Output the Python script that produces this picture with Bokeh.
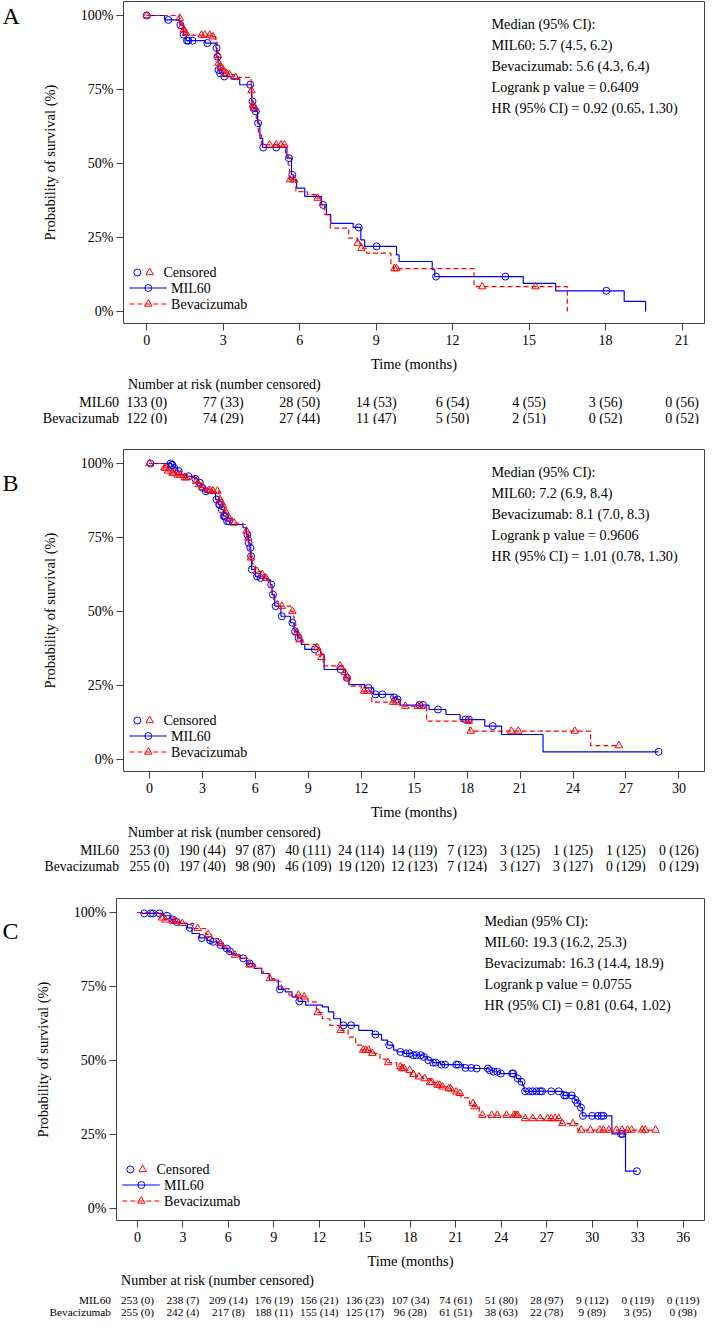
import bisect
from bokeh.plotting import figure
from bokeh.models import Range1d, FixedTicker, PrintfTickFormatter
from bokeh.layouts import column, row
from bokeh.embed import file_html
from bokeh.resources import INLINE
from bokeh.core.properties import value

FONT = "Liberation Serif"
BLUE = "#0000ff"
RED = "#ff0000"
FRAME = "#404040"

# ---------------- Panel A data ----------------
A_mil_t = [0, 0.7, 1.3, 1.43, 1.55, 2.3, 2.72, 2.75, 2.8, 2.85, 3.0, 3.3, 3.65, 4.12, 4.17, 4.25, 4.35, 4.44, 4.55, 5.5,
           5.68, 5.75, 5.88, 6.2, 6.85, 7.05, 7.22, 8.1, 8.4, 8.55, 9.8, 9.9, 11.2, 11.3, 14.77, 16.04, 18.73, 19.57]
A_mil_s = [100, 98.5, 96.8, 93.5, 91.5, 90.7, 89.0, 86.1, 81.6, 80.5, 79.4, 78.6, 76.6, 71.0, 68.7, 67.6, 63.6, 58.5, 55.4, 51.8,
           46.2, 44.5, 41.7, 38.9, 36.0, 32.7, 29.8, 28.4, 24.2, 22.0, 19.1, 16.9, 14.1, 11.8, 9.5, 7.0, 3.4, 0]
A_mil_cens = [0, 0.85, 1.32, 1.45, 1.58, 1.63, 1.8, 2.38, 2.74, 2.78, 2.82, 2.88, 3.04, 4.06, 4.15, 4.2, 4.28, 4.37, 4.57,
              5.08, 5.58, 5.71, 6.92, 8.32, 9.02, 11.35, 14.07, 18.03]
A_bev_t = [0, 1.28, 1.35, 1.42, 1.5, 1.62, 2.55, 2.7, 2.75, 2.78, 2.8, 2.88, 2.98, 3.1, 3.22, 3.45, 4.1, 4.13, 4.2, 4.3,
           4.38, 4.5, 5.45, 5.55, 5.6, 5.85, 6.3, 6.65, 6.82, 6.98, 7.2, 7.92, 8.26, 8.4, 8.62, 9.58, 9.68, 12.84, 16.5]
A_bev_s = [100, 99.1, 96.3, 95.1, 94.0, 93.4, 92.8, 91.8, 90.7, 86.5, 83.9, 82.8, 81.6, 80.5, 80.0, 79.1, 74.6, 69.8, 68.7, 64.5,
           59.7, 56.3, 52.9, 49.5, 44.5, 40.5, 39.5, 38.3, 36.0, 32.7, 28.2, 24.8, 23.1, 21.4, 19.7, 15.8, 14.5, 8.4, 0]
A_bev_cens = [0, 1.3, 1.38, 1.45, 1.55, 2.15, 2.28, 2.47, 2.6, 2.79, 2.82, 2.9, 3.0, 3.12, 3.25, 3.49, 4.11, 4.16, 4.22,
              4.82, 5.08, 5.27, 5.4, 5.62, 5.78, 6.7, 8.28, 8.42, 9.72, 9.8, 13.16, 15.25]
A_ticks = [0, 3, 6, 9, 12, 15, 18, 21]
A_mil_risk = [133, 77, 28, 14, 6, 4, 3, 0]
A_mil_cc = [0, 33, 50, 53, 54, 55, 56, 56]
A_bev_risk = [122, 74, 27, 11, 5, 2, 0, 0]
A_bev_cc = [0, 29, 44, 47, 50, 51, 52, 52]
A_stats = ["Median (95% CI):", "MIL60: 5.7 (4.5, 6.2)", "Bevacizumab: 5.6 (4.3, 6.4)",
           "Logrank p value = 0.6409", "HR (95% CI) = 0.92 (0.65, 1.30)"]

# ---------------- Panel B data ----------------
B_mil_t = [0, 1.25, 1.35, 1.6, 1.8, 2.1, 2.55, 2.75, 2.92, 3.1, 3.3, 3.75, 3.92, 4.05, 4.2, 4.35, 4.55, 5.3, 5.5, 5.6,
           5.7, 5.74, 5.78, 6.0, 6.2, 6.65, 6.85, 6.95, 7.1, 7.45, 8.0, 8.2, 8.4, 8.6, 8.8, 9.7, 9.9, 11.1, 11.3, 12.2,
           12.7, 13.8, 14.0, 14.2, 15.84, 16.8, 17.6, 19.0, 19.95, 22.3]
B_mil_s = [100, 99.5, 98.5, 97.4, 96.3, 95.7, 94.8, 93.5, 91.8, 90.6, 90.1, 87.8, 86.1, 84.4, 82.2, 80.5, 79.4, 78.3, 75.9, 73.2,
           71.5, 68.7, 64.2, 61.9, 61.3, 60.8, 59.1, 55.7, 51.8, 48.4, 46.2, 43.3, 41.1, 38.9, 37.2, 35.5, 30.4, 27.6, 25.3, 24.2,
           22.0, 21.0, 20.3, 18.4, 16.9, 15.2, 13.5, 11.3, 8.45, 2.6]
B_mil_cens = [0.06, 1.2, 1.27, 1.3, 1.4, 1.66, 2.2, 2.6, 2.85, 3.0, 3.2, 3.8, 3.95, 4.0, 4.1, 4.22, 4.25, 4.3, 4.4, 4.5,
              5.55, 5.62, 5.72, 5.76, 5.8, 6.1, 6.3, 6.9, 7.0, 7.15, 7.5, 8.1, 8.25, 8.45, 9.37, 10.84, 11.2, 12.41, 12.8,
              13.2, 13.86, 14.06, 15.3, 15.5, 16.35, 17.9, 18.1, 19.45, 28.85]
B_bev_t = [0, 0.8, 1.0, 1.25, 1.55, 1.95, 2.6, 2.7, 2.9, 3.1, 3.3, 3.5, 3.95, 4.1, 4.25, 4.45, 4.7, 5.3, 5.45, 5.55,
           5.65, 5.72, 5.85, 6.0, 6.3, 6.55, 6.7, 6.85, 6.95, 7.05, 7.3, 8.0, 8.15, 8.2, 8.3, 8.45, 8.7, 9.45, 9.6, 9.7,
           9.85, 11.0, 11.15, 11.3, 12.0, 12.6, 14.2, 15.7, 18.15, 25.0]
B_bev_s = [100, 98.5, 97.5, 96.8, 96.1, 95.2, 94.0, 92.9, 92.0, 91.2, 90.9, 90.7, 87.8, 86.1, 83.9, 81.6, 79.9, 79.4, 77.2, 74.9,
           70.9, 68.1, 65.9, 63.6, 62.5, 61.3, 60.2, 58.0, 55.7, 53.5, 51.8, 50.1, 48.4, 45.6, 42.8, 40.5, 38.9, 37.8, 36.1, 34.5,
           31.6, 29.4, 27.6, 24.8, 23.1, 19.4, 18.0, 12.95, 9.6, 4.7]
B_bev_cens = [0, 0.85, 0.92, 1.05, 1.3, 1.38, 1.6, 1.75, 2.0, 2.1, 2.65, 2.8, 3.0, 3.35, 3.45, 3.6, 3.85, 4.0, 4.15, 4.3,
              4.5, 4.8, 5.5, 5.6, 5.75, 6.1, 6.4, 6.6, 7.5, 8.1, 8.35, 8.5, 9.5, 9.62, 9.75, 10.8, 11.07, 11.2, 12.16,
              12.35, 13.8, 14.0, 14.5, 15.2, 15.4, 18.1, 18.2, 20.5, 20.9, 24.1, 26.6]
B_ticks = [0, 3, 6, 9, 12, 15, 18, 21, 24, 27, 30]
B_mil_risk = [253, 190, 97, 40, 24, 14, 7, 3, 1, 1, 0]
B_mil_cc = [0, 44, 87, 111, 114, 119, 123, 125, 125, 125, 126]
B_bev_risk = [255, 197, 98, 46, 19, 12, 7, 3, 3, 0, 0]
B_bev_cc = [0, 40, 90, 109, 120, 123, 124, 127, 127, 129, 129]
B_stats = ["Median (95% CI):", "MIL60: 7.2 (6.9, 8.4)", "Bevacizumab: 8.1 (7.0, 8.3)",
           "Logrank p value = 0.9606", "HR (95% CI) = 1.01 (0.78, 1.30)"]

# ---------------- Panel C data ----------------
C_mil_t = [0, 0.3, 1.7, 2.2, 2.5, 2.85, 3.3, 3.6, 4.1, 4.6, 4.85, 5.3, 5.6, 5.95, 6.2, 6.45, 6.8, 7.2, 7.7, 8.2,
           8.7, 9.3, 9.75, 10.2, 10.6, 11.1, 12.2, 12.6, 12.95, 13.4, 14.6, 15.5, 16.1, 16.5, 16.9, 17.15, 17.6, 18.2, 18.9, 19.15,
           19.5, 20.0, 21.5, 22.2, 23.2, 23.45, 23.9, 25.0, 25.25, 25.4, 25.5, 28.1, 28.85, 29.0, 29.2, 29.35, 31.3, 32.2]
C_mil_s = [100, 99.7, 98.9, 97.7, 96.8, 96.3, 94.8, 92.9, 91.4, 90.6, 90.1, 89.0, 87.8, 86.9, 86.1, 85.6, 84.5, 82.8, 81.1, 79.4,
           77.2, 74.0, 73.2, 71.5, 70.0, 68.7, 68.1, 66.4, 64.1, 61.9, 60.2, 58.8, 56.9, 55.2, 53.5, 52.9, 52.4, 51.8, 51.2, 50.1,
           49.3, 48.6, 47.5, 47.3, 46.7, 46.2, 45.6, 43.9, 42.8, 41.6, 39.6, 38.2, 36.7, 35.6, 34.1, 31.3, 25.2, 12.6]
C_mil_cens = [0.45, 0.88, 1.03, 1.46, 1.95, 2.31, 2.59, 3.45, 4.24, 4.8, 5.0, 5.48, 5.9, 6.1, 6.98, 7.4, 9.4, 10.68, 13.6,
              14.1, 15.7, 16.61, 17.35, 17.71, 17.96, 18.2, 18.4, 18.7, 18.9, 19.19, 19.51, 19.68, 20.05, 20.3, 21.03, 21.16,
              21.64, 22.02, 22.38, 23.12, 23.24, 23.49, 23.74, 23.98, 24.72, 24.79, 25.09, 25.34, 25.58, 25.83, 26.07, 26.32,
              26.56, 26.69, 27.3, 27.79, 28.16, 28.28, 28.65, 28.89, 29.02, 29.26, 29.39, 30.0, 30.37, 30.61, 30.74, 31.9,
              32.0, 32.95]
C_bev_t = [0, 1.5, 1.8, 2.3, 2.55, 2.9, 3.7, 4.5, 4.9, 5.35, 5.6, 6.0, 6.35, 6.75, 7.3, 7.8, 8.3, 8.7, 9.05, 9.5,
           10.0, 10.9, 11.25, 11.8, 12.2, 12.7, 13.3, 13.9, 14.4, 14.8, 15.4, 16.0, 16.4, 17.1, 17.4, 17.65, 18.0, 18.35, 18.85,
           19.3, 19.7, 20.0, 20.4, 20.7, 21.1, 21.35, 21.9, 22.2, 22.55, 25.3, 27.9, 29.05]
C_bev_s = [100, 98.2, 97.5, 97.1, 96.8, 96.3, 94.6, 92.6, 91.2, 89.5, 88.3, 86.6, 85.6, 84.5, 82.3, 81.1, 79.4, 77.7, 76.6, 74.3,
           72.1, 71.5, 69.8, 66.2, 64.1, 61.9, 60.2, 57.9, 55.2, 53.5, 52.4, 50.5, 49.3, 47.9, 47.3, 46.7, 45.3, 44.5, 43.9,
           42.6, 41.7, 41.1, 40.5, 39.4, 38.9, 37.4, 35.5, 34.4, 31.5, 30.4, 28.7, 26.5]
C_bev_cens = [1.63, 1.84, 2.36, 2.52, 2.96, 3.98, 4.67, 5.48, 6.44, 7.4, 8.73, 10.62, 11.0, 11.89, 13.41, 14.89, 15.06,
              15.25, 15.5, 16.53, 17.35, 17.47, 17.59, 17.96, 18.21, 18.57, 18.95, 19.31, 19.43, 19.8, 19.93, 20.12, 20.54,
              20.66, 21.03, 21.28, 22.14, 22.26, 22.75, 23.37, 23.74, 24.35, 24.84, 24.97, 25.09, 25.58, 26.08, 26.57,
              27.06, 27.3, 27.55, 27.79, 28.03, 28.73, 29.27, 29.88, 30.5, 30.74, 31.1, 31.6, 31.97, 32.34, 32.6, 33.3,
              33.5, 34.18]
C_ticks = [0, 3, 6, 9, 12, 15, 18, 21, 24, 27, 30, 33, 36]
C_mil_risk = [253, 238, 209, 176, 156, 136, 107, 74, 51, 28, 9, 0, 0]
C_mil_cc = [0, 7, 14, 19, 21, 23, 34, 61, 80, 97, 112, 119, 119]
C_bev_risk = [255, 242, 217, 188, 155, 125, 96, 61, 38, 22, 9, 3, 0]
C_bev_cc = [0, 4, 8, 11, 14, 17, 28, 51, 63, 78, 89, 95, 98]
C_stats = ["Median (95% CI):", "MIL60: 19.3 (16.2, 25.3)", "Bevacizumab: 16.3 (14.4, 18.9)",
           "Logrank p value = 0.0755", "HR (95% CI) = 0.81 (0.64, 1.02)"]

GROUPS = ["MIL60", "Bevacizumab"]

# ---------------- layout ----------------
W = 706          # total width of the page content
LW = 24          # width of the strip that carries the panel letter
FRAME_H = 322
BOTTOM = 53
Y0, Y1 = -4.05, 104.73


def blank(fig):
    fig.xgrid.visible = False
    fig.ygrid.visible = False
    fig.outline_line_color = None
    return fig


def build(letter, xs, xe, ticks, left, top, letter_dy, curves, stats, risk, tab_h, hdr_dy, row_dy,
          row_font, lab_px, hdr_px):
    H = top + FRAME_H + BOTTOM
    frame_w = W - left - 2
    kx = frame_w / (xe - xs)
    ky = FRAME_H / (Y1 - Y0)

    def fx(px):
        return xs + px / kx

    def fy(py):
        return Y1 - py / ky

    # letter strip
    lf = blank(figure(width=LW, height=H, x_range=Range1d(0, LW), y_range=Range1d(0, H),
                      output_backend="svg", toolbar_location=None, x_axis_location=None, y_axis_location=None,
                      min_border_left=0, min_border_right=0, min_border_top=0, min_border_bottom=0))
    lf.text([2], [H - top - letter_dy], text=[letter], text_font=value(FONT), text_font_size="24px",
            text_align="left", text_baseline="middle", text_color="black")

    p = figure(width=W - LW, height=H, x_range=Range1d(xs, xe), y_range=Range1d(Y0, Y1),
               output_backend="svg", toolbar_location=None, min_border_left=left - LW, min_border_right=2,
               min_border_top=top, min_border_bottom=BOTTOM)
    p.xgrid.visible = False
    p.ygrid.visible = False
    p.outline_line_color = FRAME
    p.outline_line_width = 1
    for ax in (p.xaxis[0], p.yaxis[0]):
        ax.axis_line_color = None
        ax.major_tick_line_color = FRAME
        ax.major_tick_out = 7
        ax.major_tick_in = 0
        ax.minor_tick_line_color = None
        ax.major_label_text_font = FONT
        ax.major_label_text_font_size = "14px"
        ax.major_label_text_color = "black"
        ax.axis_label_text_font = FONT
        ax.axis_label_text_font_size = "14.5px"
        ax.axis_label_text_font_style = "normal"
        ax.axis_label_text_color = "black"
    p.xaxis.ticker = FixedTicker(ticks=ticks)
    p.xaxis.major_label_standoff = 4
    p.xaxis.axis_label_standoff = 8
    p.xaxis.axis_label = "Time (months)"
    p.yaxis.ticker = FixedTicker(ticks=[0, 25, 50, 75, 100])
    p.yaxis.formatter = PrintfTickFormatter(format="%d%%")
    p.yaxis.major_label_standoff = 3
    p.yaxis.axis_label_standoff = 20
    p.yaxis.axis_label = "Probability of survival (%)"

    for t, s, cens, color, dash, marker, msize in curves:
        lx = list(t)
        ly = list(s)
        if cens and max(cens) > lx[-1]:
            lx.append(max(cens))
            ly.append(ly[-1])
        p.step(lx, ly, mode="after", line_color=color, line_width=1.2, line_dash=dash)
        cy = [s[bisect.bisect_right(t, c) - 1] for c in cens]
        p.scatter(cens, cy, marker=marker, size=msize, fill_color=None, line_color=color, line_width=1)

    # legend (inside frame, lower left)
    r0, r1, r2 = 271, 286.5, 302.5
    p.scatter([fx(13.8)], [fy(r0)], marker="circle", size=7, fill_color=None, line_color=BLUE, line_width=1)
    p.scatter([fx(26.2)], [fy(r0)], marker="triangle", size=7.5, fill_color=None, line_color=RED, line_width=1)
    p.line([fx(5.8), fx(43.3)], [fy(r1), fy(r1)], line_color=BLUE, line_width=1.2)
    p.scatter([fx(24.8)], [fy(r1)], marker="circle", size=7, fill_color=None, line_color=BLUE, line_width=1)
    p.line([fx(5.8), fx(43.3)], [fy(r2), fy(r2)], line_color=RED, line_width=1.2, line_dash="5 3")
    p.scatter([fx(24.8)], [fy(r2)], marker="triangle", size=7.5, fill_color=None, line_color=RED, line_width=1)
    p.text([fx(40), fx(47.6), fx(47.6)], [fy(r0), fy(r1), fy(r2)], text=["Censored"] + GROUPS,
           text_font=value(FONT), text_font_size="14px", text_align="left", text_baseline="middle",
           text_color="black")

    # statistics block
    p.text([fx(368)] * len(stats), [fy(22.5 + 21.1 * i) for i in range(len(stats))], text=stats,
           text_font=value(FONT), text_font_size="14.2px", text_align="left", text_baseline="middle",
           text_color="black")

    # number-at-risk table (full width, same month scale as the plot above)
    tx0 = xs - left / kx
    tx1 = tx0 + W / kx
    tb = blank(figure(width=W, height=tab_h, x_range=Range1d(tx0, tx1), y_range=Range1d(0, tab_h),
                      output_backend="svg", toolbar_location=None, x_axis_location=None, y_axis_location=None,
                      min_border_left=0, min_border_right=0, min_border_top=0, min_border_bottom=0))
    tb.text([tx0 + hdr_px / kx], [tab_h - hdr_dy], text=["Number at risk (number censored)"],
            text_font=value(FONT), text_font_size="14px", text_align="left", text_baseline="middle",
            text_color="black")
    for gi, (n, c) in enumerate(risk):
        yy = tab_h - row_dy[gi]
        tb.text([tx0 + lab_px / kx], [yy], text=[GROUPS[gi]], text_font=value(FONT),
                text_font_size=row_font, text_align="right", text_baseline="middle", text_color="black")
        tb.text(ticks, [yy] * len(ticks), text=[f"{a} ({b})" for a, b in zip(n, c)], text_font=value(FONT),
                text_font_size=row_font, text_align="center", text_baseline="middle", text_color="black")
    return row(lf, p, spacing=0), tb


pA, tA = build("A", -0.91, 21.88, A_ticks, 123, 1, 16.5,
               [(A_mil_t, A_mil_s, A_mil_cens, BLUE, "solid", "circle", 7),
                (A_bev_t, A_bev_s, A_bev_cens, RED, "5 3", "triangle", 7.5)],
               A_stats, [(A_mil_risk, A_mil_cc), (A_bev_risk, A_bev_cc)], 48, 8, [26, 41.5], "14px", 118.5, 127.4)
pB, tB = build("B", -1.47, 31.45, B_ticks, 123, 25, 16,
               [(B_mil_t, B_mil_s, B_mil_cens, BLUE, "solid", "circle", 7),
                (B_bev_t, B_bev_s, B_bev_cens, RED, "5 3", "triangle", 7.5)],
               B_stats, [(B_mil_risk, B_mil_cc), (B_bev_risk, B_bev_cc)], 48, 8, [26, 41.5], "13.7px", 118.5, 127.4)
pC, tC = build("C", -1.38, 37.41, C_ticks, 116, 26, 14.3,
               [(C_mil_t, C_mil_s, C_mil_cens, BLUE, "solid", "circle", 7),
                (C_bev_t, C_bev_s, C_bev_cens, RED, "5 3", "triangle", 7.5)],
               C_stats, [(C_mil_risk, C_mil_cc), (C_bev_risk, C_bev_cc)], 45, 6.5, [26.5, 38.3], "11.3px", 110.5, 120.6)

layout = column(pA, tA, pB, tB, pC, tC, spacing=0)
open("out.html", "w").write(file_html(layout, INLINE))
